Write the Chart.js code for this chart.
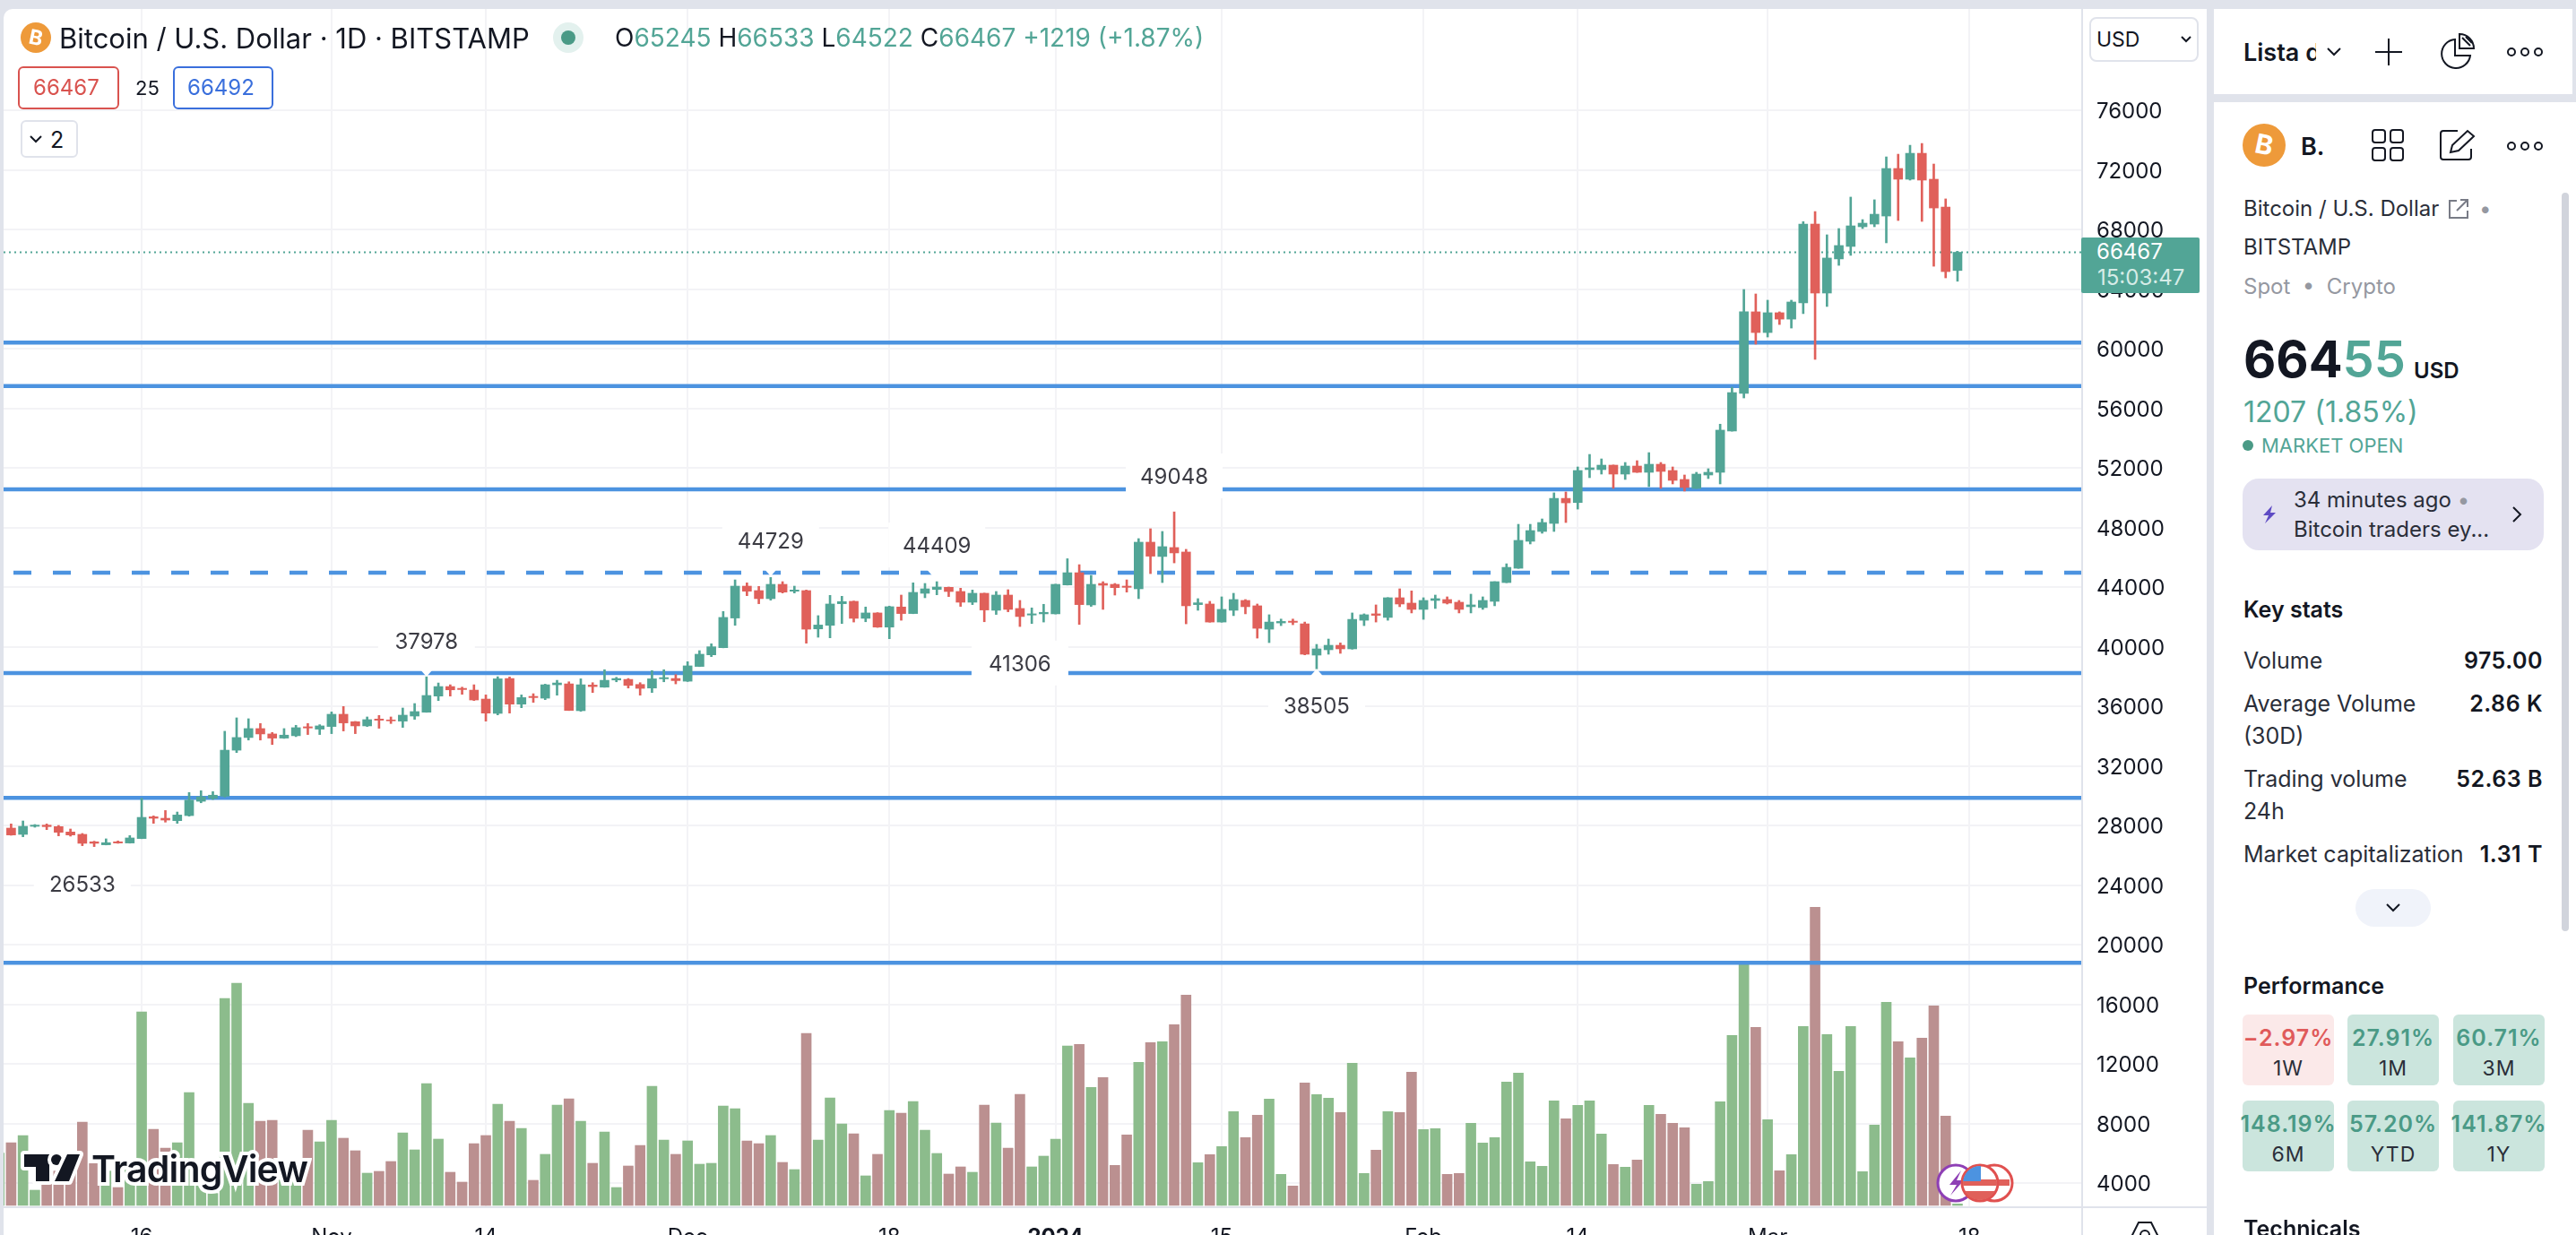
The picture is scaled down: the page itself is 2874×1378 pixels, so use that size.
<!DOCTYPE html>
<html>
<head>
<meta charset="utf-8">
<title>BTCUSD</title>
<script src="https://cdn.jsdelivr.net/npm/chart.js@4/dist/chart.umd.min.js"></script>
<style>
html, body { margin: 0; padding: 0; width: 2874px; height: 1378px; overflow: hidden; background: #e0e3eb; font-family: Inter, sans-serif; color: #131722; }
.panel { position: absolute; background: #fff; }
.t { position: absolute; line-height: 1; white-space: nowrap; transform: translateY(-50%); }
.box { position: absolute; box-sizing: border-box; }
svg { position: absolute; overflow: visible; }
.g { color: #52a596; }
.b { font-weight: 600; }
.lab { font-size: 24px; color: #2a2e39; }
.stat { font-size: 25px; color: #2a2e39; }
.val { font-size: 25px; font-weight: 600; letter-spacing: 0.5px; }
.card { position: absolute; box-sizing: border-box; width: 102px; height: 79px; border-radius: 6px; background: #cbe5dd; }
.card span { position: absolute; left: 50%; transform: translate(-50%, -50%); line-height: 1; white-space: nowrap; }
.card .p { top: 26px; font-size: 25px; font-weight: 600; letter-spacing: 1px; color: #4a9a86; }
.card .n { top: 60px; font-size: 23px; letter-spacing: 1px; color: #2a2e39; }
</style>
</head>
<body>

<div class="panel" style="left:4px;top:10px;width:2458px;height:1368px;border-top-left-radius:10px;"></div>
<canvas id="chart" width="2458" height="1368" style="position:absolute;left:4px;top:10px;"></canvas>
<div class="box" style="left:2322px;top:10px;width:2px;height:1368px;background:#e0e3eb;"></div>
<div class="box" style="left:4px;top:1346px;width:2458px;height:2px;background:#e0e3eb;"></div>

<!-- legend -->
<svg width="34" height="34" style="left:23px;top:25px;"><circle cx="17" cy="17" r="17" fill="#ee9a3a"/><text x="17" y="25" font-size="23" font-weight="700" fill="#fff" text-anchor="middle" transform="rotate(12 17 17)">B</text></svg>
<div class="t" style="left:66px;top:42px;font-size:31px;">Bitcoin / U.S. Dollar · 1D · BITSTAMP</div>
<svg width="34" height="34" style="left:617px;top:25px;"><circle cx="17" cy="17" r="17" fill="#e3f1ee"/><circle cx="17" cy="17" r="8" fill="#4a9a86"/></svg>
<div class="t" style="left:686px;top:42px;font-size:28px;">O<span class="g">65245</span> H<span class="g">66533</span> L<span class="g">64522</span> C<span class="g">66467</span> <span class="g">+1219 (+1.87%)</span></div>
<div class="box" style="left:20px;top:74px;width:113px;height:48px;border:2px solid #d9534f;border-radius:6px;"></div>
<div class="t" style="left:37px;top:98px;font-size:24px;color:#d9534f;">66467</div>
<div class="t" style="left:151px;top:98px;font-size:22px;">25</div>
<div class="box" style="left:193px;top:74px;width:112px;height:48px;border:2px solid #3a6fdc;border-radius:6px;"></div>
<div class="t" style="left:209px;top:98px;font-size:24px;color:#3a6fdc;">66492</div>
<div class="box" style="left:23px;top:134px;width:64px;height:42px;border:2px solid #e0e3eb;border-radius:6px;background:#fff;"></div>
<svg width="14" height="10" style="left:33px;top:150px;"><path d="M1 2 L7 8 L13 2" fill="none" stroke="#131722" stroke-width="2"/></svg>
<div class="t" style="left:56px;top:156px;font-size:25px;">2</div>

<!-- currency select -->
<div class="box" style="left:2331px;top:19px;width:122px;height:50px;border:2px solid #e0e3eb;border-radius:8px;background:#fff;"></div>
<div class="t" style="left:2339px;top:44px;font-size:23px;">USD</div>
<svg width="12" height="8" style="left:2433px;top:40px;"><path d="M1 1 L6 6 L11 1" fill="none" stroke="#131722" stroke-width="2"/></svg>

<!-- last price tag -->
<div class="box" style="left:2322px;top:265px;width:132px;height:62px;background:#52a596;border-radius:2px;"></div>
<div class="t" style="left:2339px;top:281px;font-size:24px;color:#fff;">66467</div>
<div class="t" style="left:2340px;top:310px;font-size:24px;color:#d6ece7;">15:03:47</div>

<!-- watermark -->
<svg width="70" height="34" style="left:25px;top:1286px;"><g stroke="#fff" stroke-width="8" paint-order="stroke" fill="#131722" stroke-linejoin="round"><path d="M2 2 H30 V32 H15 V16 H2 Z"/><circle cx="38" cy="8" r="6"/><path d="M50 2 H64 L52 32 H36 Z"/></g></svg>
<div class="t" style="left:102px;top:1304px;font-size:41px;font-weight:600;color:#131722;letter-spacing:-0.8px;-webkit-text-stroke:8px #fff;paint-order:stroke fill;">TradingView</div>

<!-- event markers -->
<svg width="100" height="50" style="left:2158px;top:1296px;">
  <defs><clipPath id="flag"><circle cx="51" cy="24" r="19"/></clipPath></defs>
  <circle cx="24" cy="24" r="20" fill="#fff" stroke="#8e3fb5" stroke-width="3"/>
  <path d="M30 10 L17 26 H25 L18 38 L33 21 H25 Z" fill="#8e3fb5"/>
  <circle cx="67" cy="24" r="20" fill="#fff" stroke="#e0504f" stroke-width="3"/>
  <rect x="72" y="20" width="12" height="7" fill="#e0605a"/>
  <circle cx="51" cy="24" r="20" fill="#fff" stroke="#e0504f" stroke-width="3"/>
  <g clip-path="url(#flag)"><rect x="30" y="20" width="42" height="7" fill="#e0605a"/><rect x="30" y="33" width="42" height="12" fill="#e0605a"/><rect x="30" y="3" width="22" height="19" fill="#4c93e0"/></g>
</svg>

<!-- settings glyph -->
<svg width="30" height="30" style="left:2378px;top:1363px;"><path d="M8 1 H22 L29 15 L22 29 H8 L1 15 Z" fill="none" stroke="#131722" stroke-width="2"/><circle cx="15" cy="15" r="5" fill="none" stroke="#131722" stroke-width="2"/></svg>

<!-- watchlist header -->
<div class="panel" style="left:2470px;top:10px;width:400px;height:95px;"></div>
<div class="t b" style="left:2503px;top:58px;font-size:27px;width:81px;overflow:hidden;">Lista de</div>
<svg width="16" height="10" style="left:2596px;top:53px;"><path d="M1 1 L8 8 L15 1" fill="none" stroke="#131722" stroke-width="2"/></svg>
<svg width="30" height="30" style="left:2650px;top:43px;"><path d="M15 0 V30 M0 15 H30" stroke="#131722" stroke-width="2"/></svg>
<svg width="42" height="42" style="left:2720px;top:36px;"><path d="M19 8 A16 16 0 1 0 36 26 H19 Z" fill="none" stroke="#131722" stroke-width="2"/><path d="M24 2 A16 16 0 0 1 40 18 H24 Z" fill="none" stroke="#131722" stroke-width="2"/><path d="M27 6 L36 15 M31 5 L38 12" stroke="#131722" stroke-width="2"/></svg>
<svg width="40" height="12" style="left:2797px;top:52px;"><g fill="none" stroke="#131722" stroke-width="2"><circle cx="5" cy="6" r="4"/><circle cx="20" cy="6" r="4"/><circle cx="35" cy="6" r="4"/></g></svg>

<!-- details panel -->
<div class="panel" style="left:2470px;top:114px;width:404px;height:1264px;"></div>
<div class="box" style="left:2858px;top:215px;width:8px;height:824px;border-radius:4px;background:#d1d4dc;"></div>
<svg width="48" height="48" style="left:2502px;top:138px;"><circle cx="24" cy="24" r="24" fill="#ee9a3a"/><text x="24" y="34" font-size="30" font-weight="700" fill="#fff" text-anchor="middle" transform="rotate(12 24 24)">B</text></svg>
<div class="t b" style="left:2567px;top:163px;font-size:27px;">B.</div>
<svg width="36" height="36" style="left:2646px;top:144px;"><g fill="none" stroke="#131722" stroke-width="2"><rect x="1" y="1" width="14" height="14" rx="3"/><rect x="21" y="1" width="14" height="14" rx="3"/><rect x="1" y="21" width="14" height="14" rx="3"/><rect x="21" y="21" width="14" height="14" rx="3"/></g></svg>
<svg width="40" height="36" style="left:2722px;top:144px;"><path d="M20 2 H4 Q1 2 1 5 V31 Q1 34 4 34 H32 Q35 34 35 31 V22" fill="none" stroke="#131722" stroke-width="2"/><path d="M12 26 L14 18 L31 2 L38 8 L21 24 Z" fill="none" stroke="#131722" stroke-width="2"/></svg>
<svg width="40" height="12" style="left:2797px;top:157px;"><g fill="none" stroke="#131722" stroke-width="2"><circle cx="5" cy="6" r="4"/><circle cx="20" cy="6" r="4"/><circle cx="35" cy="6" r="4"/></g></svg>

<div class="t lab" style="left:2503px;top:233px;">Bitcoin / U.S. Dollar</div>
<svg width="24" height="24" style="left:2731px;top:221px;"><path d="M10 3 H2 V22 H22 V14" fill="none" stroke="#787b86" stroke-width="2"/><path d="M10 14 L22 2 M14 2 H22 V10" fill="none" stroke="#787b86" stroke-width="2"/></svg>
<div class="t" style="left:2766px;top:233px;font-size:24px;color:#9598a1;">•</div>
<div class="t lab" style="left:2503px;top:276px;">BITSTAMP</div>
<div class="t" style="left:2503px;top:320px;font-size:24px;color:#9598a1;">Spot&nbsp; •&nbsp; Crypto</div>

<div class="t" style="left:2503px;top:401px;font-size:56px;font-weight:700;">664<span class="g" style="font-weight:600;">55</span></div>
<div class="t b" style="left:2693px;top:414px;font-size:24px;">USD</div>
<div class="t g" style="left:2503px;top:460px;font-size:32px;">1207 (1.85%)</div>
<svg width="12" height="12" style="left:2502px;top:491px;"><circle cx="6" cy="6" r="6" fill="#4a9a86"/></svg>
<div class="t g" style="left:2523px;top:497px;font-size:22px;">MARKET OPEN</div>

<div class="box" style="left:2502px;top:534px;width:336px;height:80px;border-radius:18px;background:#e4e2f1;"></div>
<svg width="16" height="20" style="left:2524px;top:564px;"><path d="M11 0 L1 11 H7 L3 20 L15 8 H9 Z" fill="#5e4bc4"/></svg>
<div class="t lab" style="left:2559px;top:558px;">34 minutes ago <span style="color:#9598a1;">•</span></div>
<div class="t lab" style="left:2559px;top:591px;">Bitcoin traders ey...</div>
<svg width="10" height="18" style="left:2803px;top:565px;"><path d="M1 1 L9 9 L1 17" fill="none" stroke="#131722" stroke-width="2"/></svg>

<div class="t b" style="left:2503px;top:680px;font-size:25px;">Key stats</div>
<div class="t stat" style="left:2503px;top:737px;">Volume</div>
<div class="t val" style="right:37px;top:737px;">975.00</div>
<div class="t stat" style="left:2503px;top:785px;">Average Volume</div>
<div class="t stat" style="left:2503px;top:821px;">(30D)</div>
<div class="t val" style="right:37px;top:785px;">2.86 K</div>
<div class="t stat" style="left:2503px;top:869px;">Trading volume</div>
<div class="t stat" style="left:2503px;top:905px;">24h</div>
<div class="t val" style="right:37px;top:869px;">52.63 B</div>
<div class="t stat" style="left:2503px;top:953px;">Market capitalization</div>
<div class="t val" style="right:37px;top:953px;">1.31 T</div>
<div class="box" style="left:2628px;top:992px;width:84px;height:42px;border-radius:21px;background:#f0f3fa;"></div>
<svg width="16" height="10" style="left:2662px;top:1008px;"><path d="M1 1 L8 8 L15 1" fill="none" stroke="#131722" stroke-width="2"/></svg>

<div class="t b" style="left:2503px;top:1100px;font-size:25px;">Performance</div>
<div class="card" style="left:2502px;top:1132px;background:#fbe9e9;"><span class="p" style="color:#e05a5a;">−2.97%</span><span class="n">1W</span></div>
<div class="card" style="left:2619px;top:1132px;"><span class="p">27.91%</span><span class="n">1M</span></div>
<div class="card" style="left:2737px;top:1132px;"><span class="p">60.71%</span><span class="n">3M</span></div>
<div class="card" style="left:2502px;top:1228px;"><span class="p">148.19%</span><span class="n">6M</span></div>
<div class="card" style="left:2619px;top:1228px;"><span class="p">57.20%</span><span class="n">YTD</span></div>
<div class="card" style="left:2737px;top:1228px;"><span class="p">141.87%</span><span class="n">1Y</span></div>
<div class="t b" style="left:2503px;top:1371px;font-size:25px;">Technicals</div>

<script>
// Daily candles, first bar is 5 Oct 2023
const opens = [
  27820,27400,27940,28020,27920,27560,27400,26900,26700,26900,
  26820,27120,28580,28480,28320,28660,29620,29820,29960,33050,
  33900,34500,34140,33860,34020,34620,34460,34640,35460,34960,
  34680,35140,35080,35000,35340,35600,36680,37320,37200,37080,
  36480,35520,37860,36140,36660,36540,37440,37500,35700,37420,
  37280,37760,37800,37460,37220,37840,37860,37680,38670,39450,
  39930,41920,44060,43760,43220,44180,43720,43760,41190,41430,
  42880,43040,41900,42260,41310,42660,42220,43580,43840,43980,
  43700,42980,43580,42440,43460,42560,42120,42200,42200,44140,
  44960,42800,44240,44180,44060,43880,47010,46050,46650,46350,
  42820,42860,41650,42440,43100,42740,41170,41590,41710,41530,
  39430,39790,40090,39850,41770,42200,41960,43280,42920,42500,
  43100,43160,42980,42680,42620,43040,44300,45260,47070,47730,
  48270,49950,49670,51880,51880,52180,51580,52120,51700,52240,
  51820,51220,50620,51520,51700,54470,56990,62470,61080,62410,
  61980,63070,68360,63730,66020,66860,68180,68360,68900,72090,
  71370,73110,71370,69500,65245
];
const highs = [
  28100,28300,28060,28100,28000,27760,27460,26940,27100,26960,
  27320,29820,28640,29000,28900,30210,30330,30270,34320,35220,
  35160,34840,34240,34500,34720,34840,34760,35620,35980,34980,
  35280,35380,35280,35880,36180,37978,37560,37440,37280,37440,
  36760,37980,37960,36760,36840,37480,37740,37640,37840,37580,
  38450,37940,37860,37580,38390,38450,38120,38990,39730,40190,
  42360,44480,44280,44040,44640,44360,44060,43800,42080,43440,
  43380,43060,42660,42280,42720,43460,44280,44240,44360,44000,
  43920,43800,43590,43700,43820,43100,42600,42840,44190,45900,
  45500,44780,44360,44240,44480,47250,47910,47730,49048,46530,
  43220,43040,43340,43580,43160,42860,42140,41850,41850,41650,
  40150,40510,40250,42260,42200,42800,43290,43880,43740,43280,
  43460,43340,43100,43520,43340,44360,45560,48210,48210,48570,
  50320,50380,52060,52900,52600,52190,52360,52480,53020,52360,
  52060,51520,51700,51940,54930,57410,63970,63670,63250,62470,
  63250,68520,69200,67640,68060,70170,68660,69990,72870,73050,
  73650,73770,72390,70050,66533
];
const lows = [
  27340,27240,27880,27720,27300,27280,26640,26580,26690,26800,
  26810,27110,28140,28220,28140,28620,29520,29740,29900,32890,
  33730,33730,33430,33840,33960,34100,34100,34160,34340,34160,
  34640,34520,34840,34580,35120,35590,36380,36680,36800,36380,
  35000,35420,35540,35900,36260,36440,36740,35710,35660,36920,
  37270,37640,37220,36740,36920,37640,37500,37660,38660,39330,
  39920,41430,43420,42880,43120,43600,43600,40230,40630,40590,
  41550,41650,41670,41290,40530,41770,42210,43280,43480,43360,
  42700,42820,41670,42160,42340,41350,41550,41650,42190,44130,
  41490,42700,42500,43460,43660,43220,44900,44300,45620,41530,
  42440,41640,41640,42080,42200,40570,40270,41410,41470,39450,
  38505,39490,39550,39830,41410,41650,41770,42680,42260,41830,
  42560,42860,42260,42260,42500,42740,44290,45250,46890,47610,
  47730,48330,49230,51340,51580,50620,51220,51690,50740,50620,
  50920,50440,50610,51280,50920,54460,56690,60300,60780,61620,
  61380,62350,59280,62830,65590,66260,68060,68180,67100,68600,
  71310,68540,65530,64750,64522
];
const closes = [
  27360,27940,28020,27920,27540,27360,26800,26800,26840,26820,
  27160,28540,28480,28360,28700,29700,29920,30030,33050,33900,
  34500,34140,33860,34060,34560,34540,34680,35460,34880,34680,
  35100,35060,35020,35400,35640,36720,37320,37100,37120,36420,
  35540,37840,36140,36580,36580,37440,37560,35720,37440,37320,
  37740,37860,37400,37200,37840,37920,37720,38710,39490,39990,
  41960,44060,43720,43220,44180,43660,43800,41170,41450,42860,
  43020,41900,42260,41310,42680,42220,43640,43880,44000,43700,
  42980,43580,42460,43460,42500,42020,42200,42300,44180,44960,
  42820,44180,44120,43960,43980,47010,46070,46710,46290,42740,
  42940,41650,42500,43160,42680,41230,41650,41690,41630,39490,
  39850,40090,39850,41830,42140,42100,43280,42860,42500,43100,
  43220,42920,42500,42800,43100,44360,45320,47130,47790,48330,
  49950,49650,51820,52000,52180,51580,52120,51700,52240,51760,
  51160,50680,51580,51700,54530,57050,62470,61080,62410,61980,
  63130,68360,63730,66080,66920,68240,68420,69020,72090,71370,
  73110,71310,69440,65170,66467
];
// Volume overlay, no scale is shown so units are only relative.
// One extra bar in front of the candles, it is cut by the left edge.
const volumes = [
  1750,
  2100,2340,510,1150,1150,1250,2790,1400,1150,600,
  1250,6480,2550,1920,2100,3780,650,400,6930,7440,
  3420,2820,2850,1150,1150,2520,2130,2850,2250,1830,
  1080,1140,1470,2430,1860,4080,2220,1110,780,2070,
  2340,3390,2820,2580,840,1710,3360,3570,2820,1410,
  2460,600,1320,2010,3990,2190,1710,2160,1380,1410,
  3330,3240,2160,2070,2340,1440,1200,5760,2190,3600,
  2730,2400,990,1710,3180,3090,3480,2520,1740,1050,
  1290,1110,3360,2760,1920,3720,1290,1650,2220,5340,
  5390,3950,4280,1340,2360,4790,5450,5480,6050,7040,
  1430,1700,1970,3140,2270,3020,3560,1040,650,4100,
  3710,3590,3110,4760,1070,1850,3140,3110,4460,2540,
  2570,1040,1070,2750,2090,2270,4130,4430,1460,1310,
  3500,2900,3350,3500,2390,1370,1280,1520,3350,3050,
  2750,2600,710,800,3470,5690,8090,5960,2870,1160,
  1700,5990,9980,5720,4490,5990,1130,2690,6800,5480,
  4940,5600,6680,2990,50
];

const priceTicks = [4000,8000,12000,16000,20000,24000,28000,32000,36000,40000,44000,48000,52000,56000,60000,64000,68000,72000,76000];
const dateTickBars = [11,27,40,57,74,88,102,119,132,148,165];
const dateTickLabels = ['16','Nov','14','Dec','18','2024','15','Feb','14','Mar','18'];

const levelLines = [60403,57493,50556,38226,29847,18782];
const dashedLevel = 44962;
const lastPrice = 66467;

// Pivot labels: value, bar it belongs to, -1 above the bar, 1 below
const pivotValues = [26533,37978,44729,44409,41306,38505,49048];
const pivotBars = [6,35,64,78,85,110,98];
const pivotSides = [1,-1,-1,-1,1,1,-1];

const GREEN = '#52a596';
const RED = '#e0605a';
const VOL_GREEN = '#8cbc8c';
const VOL_RED = '#bb9090';
const BLUE = '#4c93e0';
const GRID = '#f3f3f6';

const X_MIN = -0.634;
const X_MAX = 174.5;

const isUp = i => closes[i] >= opens[i];
const candleColors = closes.map((c, i) => isUp(i) ? GREEN : RED);
const volumeColors = volumes.map((v, i) => i === 0 || isUp(i - 1) ? VOL_GREEN : VOL_RED);

function levelDataset(value, extra) {
  return Object.assign({
    type: 'line',
    data: [{ x: X_MIN, y: value }, { x: X_MAX, y: value }],
    borderColor: BLUE,
    borderWidth: 4.5,
    pointRadius: 0,
    yAxisID: 'y',
    order: 3
  }, extra);
}

// Draws the white pivot labels with their little notch
const pivotLabels = {
  id: 'pivotLabels',
  afterDatasetsDraw(chart) {
    const { ctx, scales } = chart;
    ctx.save();
    pivotValues.forEach((value, i) => {
      const x = scales.x.getPixelForValue(pivotBars[i]);
      const tip = scales.y.getPixelForValue(value);
      const side = pivotSides[i];
      const mid = tip + side * 40;
      ctx.fillStyle = '#fff';
      ctx.fillRect(x - 54, mid - 25, 108, 50);
      ctx.beginPath();
      ctx.moveTo(x - 13, mid - side * 25);
      ctx.lineTo(x + 13, mid - side * 25);
      ctx.lineTo(x, tip);
      ctx.closePath();
      ctx.fill();
      ctx.fillStyle = '#3b3b43';
      ctx.font = '24px Inter';
      ctx.textAlign = 'center';
      ctx.textBaseline = 'middle';
      ctx.fillText(String(value), x, mid + 2);
    });
    ctx.restore();
  }
};

new Chart(document.getElementById('chart'), {
  data: {
    datasets: [
      {
        type: 'bar',
        data: closes.map((c, i) => ({ x: i, y: [Math.min(opens[i], c), Math.max(opens[i], c)] })),
        backgroundColor: candleColors,
        barThickness: 10,
        grouped: false,
        yAxisID: 'y',
        order: 1
      },
      {
        type: 'bar',
        data: closes.map((c, i) => ({ x: i, y: [lows[i], highs[i]] })),
        backgroundColor: candleColors,
        barThickness: 2,
        grouped: false,
        yAxisID: 'y',
        order: 2
      },
      ...levelLines.map(v => levelDataset(v)),
      levelDataset(dashedLevel, { borderDash: [20, 24], borderDashOffset: -11 }),
      levelDataset(lastPrice, { borderColor: GREEN, borderWidth: 2, borderDash: [2, 4] }),
      {
        type: 'bar',
        data: volumes.map((v, i) => ({ x: i - 1, y: v })),
        backgroundColor: volumeColors,
        barThickness: 11,
        grouped: false,
        yAxisID: 'vol',
        order: 5
      }
    ]
  },
  options: {
    responsive: false,
    animation: false,
    devicePixelRatio: 1,
    layout: { padding: 0 },
    plugins: { legend: { display: false }, tooltip: { enabled: false } },
    scales: {
      x: {
        type: 'linear',
        offset: false,
        min: X_MIN,
        max: X_MAX,
        afterBuildTicks: scale => { scale.ticks = dateTickBars.map(v => ({ value: v })); },
        afterFit: scale => {
          scale.height = 31;
          scale.paddingLeft = 0;
          scale.paddingRight = 0;
        },
        grid: { color: GRID, lineWidth: 2, drawTicks: false, offset: false },
        border: { display: false },
        ticks: {
          autoSkip: false,
          maxRotation: 0,
          padding: 19,
          color: '#131722',
          font: ctx => ({
            family: 'Inter',
            size: 24,
            weight: ctx.tick && dateTickLabels[dateTickBars.indexOf(ctx.tick.value)] === '2024' ? '700' : '400'
          }),
          callback: value => dateTickLabels[dateTickBars.indexOf(value)]
        }
      },
      y: {
        position: 'right',
        min: 2376,
        max: 82797,
        afterBuildTicks: scale => { scale.ticks = priceTicks.map(v => ({ value: v })); },
        afterFit: scale => {
          scale.width = 139;
          // no room kept for half a label above and below the axis
          scale.paddingTop = 0;
          scale.paddingBottom = 0;
        },
        grid: { color: GRID, lineWidth: 2, drawTicks: false },
        border: { display: false },
        ticks: {
          autoSkip: false,
          padding: 16,
          labelOffset: 2,
          color: '#131722',
          font: { family: 'Inter', size: 24 },
          callback: value => String(value)
        }
      },
      vol: {
        display: false,
        min: -60,
        max: 40050
      }
    }
  },
  plugins: [pivotLabels]
});
</script>
</body>
</html>
